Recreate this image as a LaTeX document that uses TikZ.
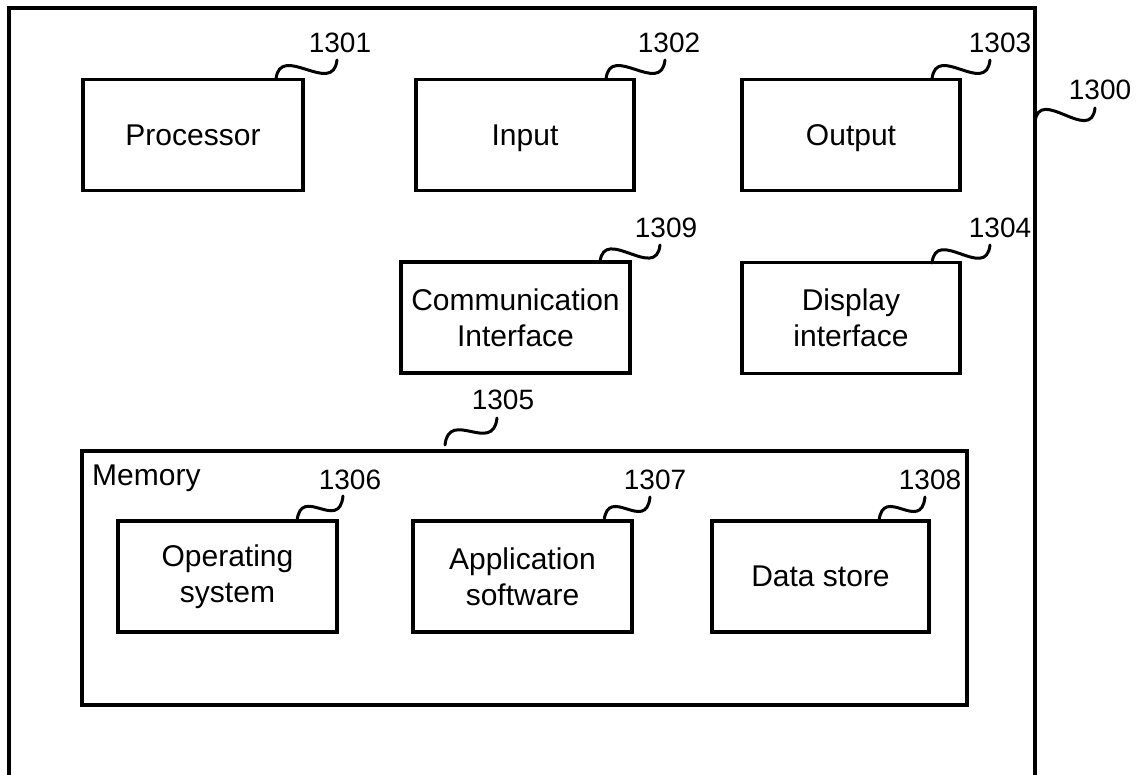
\documentclass[tikz,border=0pt]{standalone}
\usepackage{fontspec}
\setmainfont{Liberation Sans}
\begin{document}
\begin{tikzpicture}[x=1pt,y=-1pt,
  frame/.style={draw, line width=3.2pt, inner sep=0pt},
  box/.style={draw, line width=3.2pt, inner sep=0pt, align=center,
    minimum width=218pt, minimum height=111pt,
    font=\fontsize{30}{36}\selectfont},
  num/.style={inner sep=0pt, font=\fontsize{28}{34}\selectfont},
  squig/.style={line width=3pt, line cap=round,
    to path={.. controls +(4,-37) and +(-4,37) .. (\tikztotarget)}}
]
\useasboundingbox (0,0) rectangle (1140,775);

% outer frame (open at the bottom of the page)
\node[frame, minimum width=1026pt, minimum height=784pt] (outer) at (522,400) {};

% top row
\node[box, minimum width=220pt] (proc) at (193,135) {Processor};
\node[box, text depth=0pt] (input) at (525,135) {Input};
\node[box, text depth=0pt] (output) at (851,135) {Output};

% second row
\node[box, minimum width=229pt] (comm) at (515.5,317.5) {Communication\\Interface};
\node[box] (disp) at (851,318) {Display\\interface};

% memory
\node[frame, minimum width=885pt, minimum height=254pt] (mem) at (524.5,578) {};
\node[anchor=base west, inner sep=0pt, font=\fontsize{30}{36}\selectfont] (memlbl) at (92,485) {Memory};
\node[box, minimum width=219pt] (os) at (227.5,576.5) {Operating\\system};
\node[box, minimum width=219pt] (app) at (522.5,576.5) {Application\\software};
\node[box, minimum width=217pt] (data) at (820.5,576.5) {Data store};

% reference numerals
\node[num] (l1300) at (1100,90) {1300};
\node[num] (l1301) at (340,43) {1301};
\node[num] (l1302) at (669,43) {1302};
\node[num] (l1303) at (1000,43) {1303};
\node[num] (l1304) at (1000,228) {1304};
\node[num] (l1309) at (666,228) {1309};
\node[num] (l1305) at (503,400) {1305};
\node[num] (l1306) at (350,480) {1306};
\node[num] (l1307) at (655,480) {1307};
\node[num] (l1308) at (930,480) {1308};

% leader end points
\coordinate (s1300) at (1035,122); \coordinate (e1300) at (1095,108);
\coordinate (s1301) at (276,79);   \coordinate (e1301) at (337,60);
\coordinate (s1302) at (606,79);   \coordinate (e1302) at (665,60);
\coordinate (s1303) at (932,79);   \coordinate (e1303) at (990,60);
\coordinate (s1309) at (600,262);  \coordinate (e1309) at (660,245);
\coordinate (s1304) at (932,263);  \coordinate (e1304) at (990,245);
\coordinate (s1305) at (445,445);  \coordinate (e1305) at (497,418);
\coordinate (s1306) at (297,521);  \coordinate (e1306) at (343,496);
\coordinate (s1307) at (604,521);  \coordinate (e1307) at (650,497);
\coordinate (s1308) at (879,521);  \coordinate (e1308) at (925,497);

\foreach \n in {1300,1301,1302,1303,1309,1304,1305,1306,1307,1308}
  \draw[squig] (s\n) to (e\n);
\end{tikzpicture}
\end{document}
